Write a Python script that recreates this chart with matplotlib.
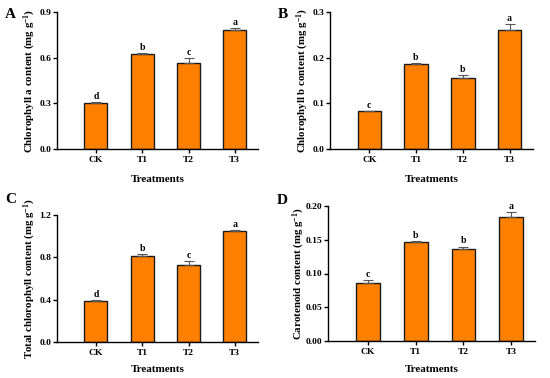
import matplotlib
matplotlib.use("Agg")
import matplotlib.pyplot as plt
import numpy as np

# ── data ─────────────────────────────────────────
treatments = ["CK", "T1", "T2", "T3"]

chl_a = [0.302, 0.622, 0.562, 0.780]
chl_a_err = [0.006, 0.008, 0.035, 0.012]
chl_a_sig = ["d", "b", "c", "a"]

chl_b = [0.083, 0.187, 0.156, 0.261]
chl_b_err = [0.001, 0.002, 0.005, 0.012]
chl_b_sig = ["c", "b", "b", "a"]

chl_total = [0.385, 0.815, 0.725, 1.050]
chl_total_err = [0.012, 0.016, 0.040, 0.010]
chl_total_sig = ["d", "b", "c", "a"]

carot = [0.086, 0.147, 0.136, 0.183]
carot_err = [0.004, 0.001, 0.004, 0.008]
carot_sig = ["c", "b", "b", "a"]

plt.rcParams["font.family"] = "Liberation Serif"
plt.rcParams["font.weight"] = "bold"
plt.rcParams["mathtext.fontset"] = "custom"
plt.rcParams["mathtext.rm"] = "Liberation Serif:bold"
plt.rcParams["mathtext.bf"] = "Liberation Serif:bold"
plt.rcParams["mathtext.default"] = "bf"

W, H = 550, 378
fig = plt.figure(figsize=(W / 100, H / 100), dpi=100)

# panel: letter, (left, right, top, bottom) in px, data, label, ylim, ticks, fmt,
#        letter pos px, ylabel x offset px, xlabel y offset px
panels = [
    ("A", (57, 258, 12, 149), chl_a, chl_a_err, chl_a_sig,
     "Chlorophyll a content (mg g$^{-1}$)", 0.9, [0, 0.3, 0.6, 0.9], "{:.1f}",
     (10, 14), 27, 31),
    ("B", (330, 533, 12, 149), chl_b, chl_b_err, chl_b_sig,
     "Chlorophyll b content (mg g$^{-1}$)", 0.3, [0, 0.1, 0.2, 0.3], "{:.1f}",
     (283, 14), 27, 31),
    ("C", (57, 258, 215, 342), chl_total, chl_total_err, chl_total_sig,
     "Total chlorophyll content (mg g$^{-1}$)", 1.2, [0, 0.4, 0.8, 1.2], "{:.1f}",
     (11, 199), 27, 28),
    ("D", (328, 535, 206, 341), carot, carot_err, carot_sig,
     "Carotenoid content (mg g$^{-1}$)", 0.20, [0, 0.05, 0.10, 0.15, 0.20], "{:.2f}",
     (282, 201), 29, 29),
]

x = np.arange(len(treatments))
for (letter, box, vals, errs, sig, ylabel, ymax, yticks, fmt,
     lpos, ylab_off, xlab_off) in panels:
    l, r, t, b = box
    ax = fig.add_axes([l / W, (H - b) / H, (r - l) / W, (b - t) / H])
    ax.bar(x, vals, width=0.5, color="#FF8000", edgecolor="#1a1a1a", linewidth=1.0,
           yerr=[np.zeros(len(errs)), errs],
           error_kw=dict(ecolor="#555555", elinewidth=0.8, capsize=3.5, capthick=0.8))
    for xi, v, e, s in zip(x, vals, errs, sig):
        ax.text(xi, v + e + ymax * 0.008, s, ha="center", va="bottom",
                fontsize=7, fontweight="bold")
    ax.set_xlim(-0.84, 3.5)
    ax.set_ylim(0, ymax)
    ax.set_yticks(yticks)
    ax.set_yticklabels([fmt.format(v) for v in yticks])
    ax.set_xticks(x)
    ax.set_xticklabels(treatments)
    ax.tick_params(labelsize=6.8, width=1.0, length=3, pad=1, direction="out")
    ax.tick_params(axis="x", pad=2)
    for lbl in ax.get_xticklabels() + ax.get_yticklabels():
        lbl.set_fontweight("bold")
    ax.spines["top"].set_visible(False)
    ax.spines["right"].set_visible(False)
    ax.spines["left"].set_linewidth(1.0)
    ax.spines["bottom"].set_linewidth(1.0)

    ax.set_xlabel("Treatments", fontsize=8, fontweight="bold")
    ax.xaxis.set_label_coords(0.5, -xlab_off / (b - t))
    ax.xaxis.label.set_verticalalignment("center")
    ax.set_ylabel(ylabel, fontsize=7.8, fontweight="bold")
    ax.yaxis.set_label_coords(-ylab_off / (r - l), 0.5)
    ax.yaxis.label.set_verticalalignment("center")

    fig.text(lpos[0] / W, 1 - lpos[1] / H, letter,
             fontsize=11, fontweight="bold", va="center", ha="center")

plt.savefig("out.png", dpi=100)
